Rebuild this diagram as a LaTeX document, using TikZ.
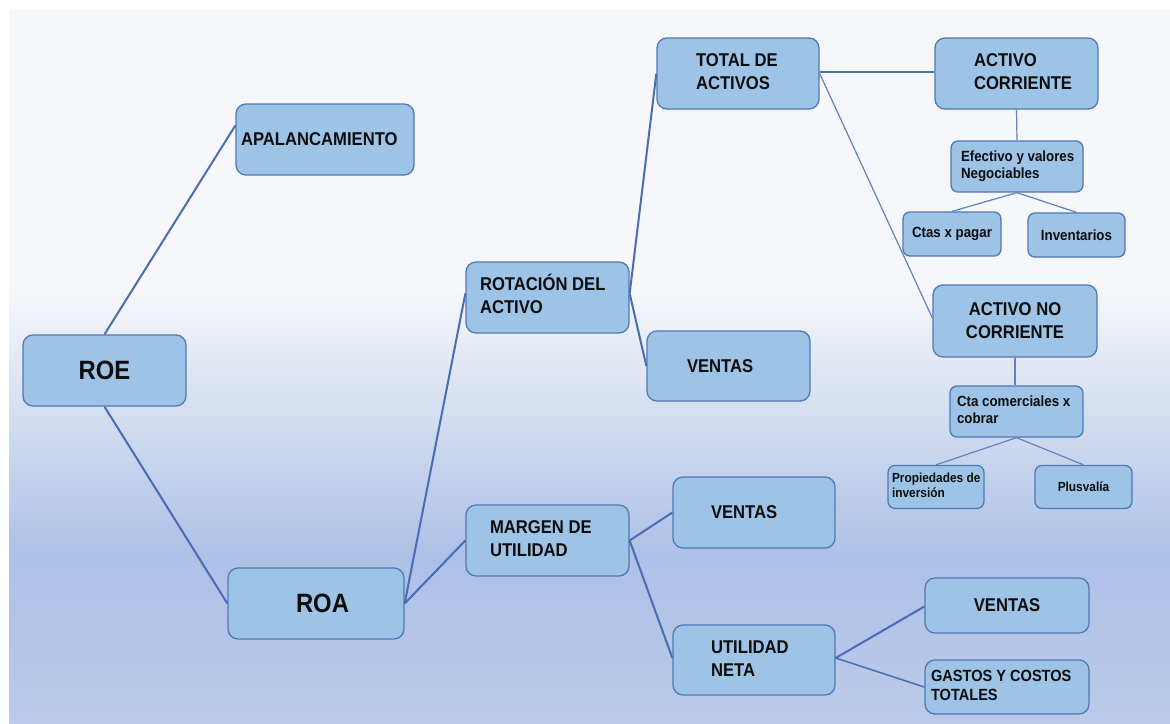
\documentclass[tikz,border=0pt]{standalone}
\usepackage{fontspec}
\setmainfont{Liberation Sans}[FakeStretch=0.9]
\definecolor{boxfill}{HTML}{9DC3E6}
\definecolor{boxline}{HTML}{5278B4}
\definecolor{conncol}{HTML}{4A6CB4}
\definecolor{connthin}{HTML}{6382BF}
\definecolor{textc}{HTML}{0D0D0D}
\definecolor{bga}{HTML}{F5F7FA}
\definecolor{bgb}{HTML}{DDE5F2}
\definecolor{bgc}{HTML}{C4D2EC}
\definecolor{bgd}{HTML}{ADC0E6}
\definecolor{bge}{HTML}{BBCAE9}
\newcommand\mybxtab[3]{\makebox[#1][l]{\hspace*{#2}\begin{tabular}{@{}l@{}}#3\end{tabular}}}
\newcommand\mybxline[3]{\makebox[#1][l]{\hspace*{#2}#3}}
\tikzset{
  box/.style={draw=boxline, line width=1.3pt, fill=boxfill, rounded corners=10pt,
    inner sep=0pt, text=textc},
  sbox/.style={box, rounded corners=7pt},
  fbig/.style={font=\fontsize{26.5}{32}\selectfont\bfseries},
  fmain/.style={font=\fontsize{18.5}{23}\selectfont\bfseries},
  fgas/.style={font=\fontsize{16.2}{19.5}\selectfont\bfseries},
  fsmall/.style={font=\fontsize{14.8}{17.5}\selectfont\bfseries},
  ftiny/.style={font=\fontsize{13.2}{15}\selectfont\bfseries},
  conn/.style={draw=conncol, line width=2pt},
  thinconn/.style={draw=connthin, line width=1.2pt},
}
\begin{document}
\begin{tikzpicture}[x=1pt,y=-1pt]
\useasboundingbox (0,0) rectangle (1170,723);
% background
\fill[white] (0,0) rectangle (1170,723);
\fill[bga] (9,10) rectangle (1170,291);
\shade[top color=bga, bottom color=bgb] (9,290) rectangle (1170,381);
\shade[top color=bgb, bottom color=bgc] (9,380) rectangle (1170,471);
\shade[top color=bgc, bottom color=bgd] (9,470) rectangle (1170,556);
\shade[top color=bgd, bottom color=bge] (9,555) rectangle (1170,723);

% nodes
\node[box, fbig, minimum width=163pt, minimum height=71pt] (roe) at (104.5,370.5) {ROE};
\node[box, fmain, minimum width=178pt, minimum height=71pt] (apal) at (325,139.5) {\mybxline{178pt}{5pt}{APALANCAMIENTO}};
\node[box, fbig, minimum width=176pt, minimum height=71pt] (roa) at (316,603.5) {\mybxline{176pt}{68pt}{ROA}};
\node[box, fmain, minimum width=163pt, minimum height=71pt] (rot) at (547.5,297.5) {\mybxtab{163pt}{14pt}{ROTACIÓN DEL\\ACTIVO}};
\node[box, fmain, minimum width=163pt, minimum height=71pt] (marg) at (547.5,540.5) {\mybxtab{163pt}{24pt}{MARGEN DE\\UTILIDAD}};
\node[box, fmain, minimum width=162pt, minimum height=71pt] (ta) at (738,73.5) {\mybxtab{162pt}{39pt}{TOTAL DE\\ACTIVOS}};
\node[box, fmain, minimum width=163pt, minimum height=70pt] (v1) at (728.5,366) {\mybxline{163pt}{40pt}{VENTAS}};
\node[box, fmain, minimum width=163pt, minimum height=71pt] (ac) at (1016.5,73.5) {\mybxtab{163pt}{39pt}{ACTIVO\\CORRIENTE}};
\node[sbox, fsmall, minimum width=132pt, minimum height=51pt] (ef) at (1017,166.5) {\mybxtab{132pt}{10pt}{Efectivo y valores\\Negociables}};
\node[sbox, fsmall, minimum width=98pt, minimum height=44pt] (ctas) at (952,234) {Ctas x pagar};
\node[sbox, fsmall, minimum width=97pt, minimum height=44pt] (inv) at (1076.5,235) {Inventarios};
\node[box, fmain, align=center, minimum width=164pt, minimum height=72pt] (anc) at (1015,321) {ACTIVO NO\\CORRIENTE};
\node[sbox, fsmall, minimum width=133pt, minimum height=51pt] (cta) at (1016.5,411.5) {\mybxtab{133pt}{7pt}{Cta comerciales x\\cobrar}};
\node[sbox, ftiny, minimum width=96pt, minimum height=43pt] (prop) at (936,487) {\mybxtab{96pt}{4pt}{Propiedades de\\inversión}};
\node[sbox, ftiny, minimum width=97pt, minimum height=43pt] (plus) at (1083.5,487) {Plusvalía};
\node[box, fmain, minimum width=162pt, minimum height=71pt] (v2) at (754,512.5) {\mybxline{162pt}{38pt}{VENTAS}};
\node[box, fmain, minimum width=162pt, minimum height=70pt] (un) at (754,660) {\mybxtab{162pt}{38pt}{UTILIDAD\\NETA}};
\node[box, fmain, minimum width=164pt, minimum height=55pt] (v3) at (1007,605.5) {VENTAS};
\node[box, fgas, minimum width=164pt, minimum height=54pt] (gas) at (1007,687) {\mybxtab{164pt}{6pt}{GASTOS Y COSTOS\\TOTALES}};

% connectors
\draw[conn] (roe.north) -- ([yshift=14pt]apal.west);
\draw[conn] (roe.south) -- (roa.west);
\draw[conn] (roa.east) -- ([yshift=4pt]rot.west);
\draw[conn] (roa.east) -- (marg.west);
\draw[conn] ([yshift=4pt]rot.east) -- (ta.west);
\draw[conn] ([yshift=4pt]rot.east) -- (v1.west);
\draw[conn, line width=2.4pt] ([yshift=1.5pt]ta.east) -- ([yshift=1.5pt]ac.west);
\draw[thinconn] (ta.east) -- ([yshift=3pt]anc.west);
\draw[thinconn] (ac.south) -- (ef.north);
\draw[thinconn] (ef.south) -- (ctas.north);
\draw[thinconn] (ef.south) -- (inv.north);
\draw[thinconn] (anc.south) -- (anc.south |- cta.north);
\draw[thinconn] (cta.south) -- (prop.north);
\draw[thinconn] (cta.south) -- (plus.north);
\draw[conn] (marg.east) -- (v2.west);
\draw[conn] (marg.east) -- ([yshift=2pt]un.west);
\draw[conn] ([yshift=2pt]un.east) -- ([yshift=-1pt]v3.west);
\draw[conn, line width=1.5pt] ([yshift=2pt]un.east) -- (gas.west);
\end{tikzpicture}
\end{document}
